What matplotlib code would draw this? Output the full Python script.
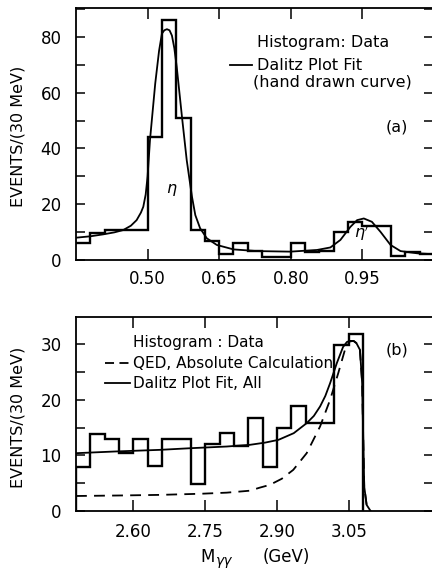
import numpy as np
import matplotlib
matplotlib.use("Agg")
import matplotlib.pyplot as plt
from matplotlib.lines import Line2D

plt.rcParams['font.family'] = ['DejaVu Sans']
plt.rcParams['mathtext.fontset'] = 'dejavusans'

# ---------------- data: panel (a) ----------------
a_bin_lo = 0.35
a_bin_width = 0.03
a_counts = [6.2, 9.8, 10.7, 10.7, 10.7, 44.2, 86.0, 50.8, 10.7, 6.9,
            2.0, 6.2, 3.3, 1.0, 1.0, 6.2, 2.8, 3.3, 9.9, 13.5,
            12.3, 12.3, 1.3, 3.0, 2.0]
a_fit_x = [0.35, 0.38, 0.407, 0.43, 0.449, 0.465, 0.477, 0.486, 0.491, 0.496,
           0.500, 0.505, 0.516, 0.524, 0.530, 0.535, 0.5405, 0.546, 0.551, 0.556,
           0.561, 0.572, 0.582, 0.593, 0.600, 0.610, 0.624, 0.645, 0.68, 0.729,
           0.799, 0.855, 0.883, 0.904, 0.925, 0.939, 0.953, 0.97, 0.988, 1.009,
           1.03, 1.065, 1.096]
a_fit_y = [8.0, 8.5, 9.2, 9.9, 10.75, 12.3, 14.3, 17.0, 19.1, 23.5,
           30.0, 43.0, 63.3, 75.0, 81.2, 82.4, 82.8, 82.4, 80.5, 76.0,
           69.3, 51.4, 35.8, 22.7, 16.1, 11.4, 7.8, 5.4, 3.8, 3.2,
           3.0, 3.6, 4.5, 7.2, 11.9, 14.3, 14.9, 13.7, 10.1, 5.4,
           3.2, 2.4, 2.1]
a_xticks = [0.50, 0.65, 0.80, 0.95]
a_xticklabels = ['0.50', '0.65', '0.80', '0.95']
a_yticks = [0, 20, 40, 60, 80]

# ---------------- data: panel (b) ----------------
b_bin_lo = 2.48
b_bin_width = 0.03
b_counts = [8.0, 13.8, 12.9, 10.5, 12.9, 8.1, 12.9, 12.9, 4.9, 12.0,
            14.1, 11.7, 16.8, 8.0, 15.0, 18.9, 15.8, 15.8, 29.9, 31.8]
b_fit_x = [2.48, 2.56, 2.655, 2.72, 2.795, 2.843, 2.875, 2.903, 2.935, 2.962,
           2.977, 2.990, 3.001, 3.011, 3.025, 3.038, 3.046, 3.052, 3.060, 3.066,
           3.0733, 3.078, 3.080, 3.0823, 3.0873, 3.0956]
b_fit_y = [10.4, 10.7, 11.0, 11.3, 11.6, 11.9, 12.3, 12.8, 14.0, 15.8,
           17.1, 18.8, 20.7, 23.0, 26.6, 29.5, 30.4, 30.6, 30.6, 30.2,
           29.0, 23.0, 14.0, 4.4, 1.1, 0.0]
b_qed_x = [2.48, 2.58, 2.655, 2.74, 2.795, 2.843, 2.864, 2.885, 2.91, 2.934,
           2.962, 2.990, 3.011, 3.028, 3.042, 3.052, 3.060, 3.066, 3.0733, 3.078,
           3.080, 3.0823, 3.0873, 3.0956]
b_qed_y = [2.7, 2.8, 2.9, 3.1, 3.3, 3.65, 4.2, 4.7, 5.8, 7.4,
           10.4, 15.2, 20.0, 24.8, 29.0, 30.5, 30.6, 30.2, 29.0, 23.0,
           14.0, 4.4, 1.1, 0.0]
b_xticks = [2.60, 2.75, 2.90, 3.05]
b_xticklabels = ['2.60', '2.75', '2.90', '3.05']
b_yticks = [0, 10, 20, 30]

# ---------------- figure ----------------
W, H = 432, 571
fig = plt.figure(figsize=(W / 100, H / 100), dpi=100)


def box(l, t, r, b):
    return [l / W, 1 - b / H, (r - l) / W, (b - t) / H]


def fx(x):
    return x / W


def fy(y):
    return 1 - y / H


axA = fig.add_axes(box(76, 8, 433, 260))
axB = fig.add_axes(box(76, 317, 433, 511))

a_edges = a_bin_lo + a_bin_width * np.arange(len(a_counts) + 1)
b_edges = b_bin_lo + b_bin_width * np.arange(len(b_counts) + 1)

axA.stairs(a_counts, a_edges, baseline=None, color='black', linewidth=1.7)
axA.plot(a_fit_x, a_fit_y, color='black', linewidth=1.3)
axA.set_xlim(0.35, 1.098)
axA.set_ylim(0, 90.4)

axB.stairs(b_counts, b_edges, baseline=0, color='black', linewidth=1.7)
axB.plot(b_fit_x, b_fit_y, color='black', linewidth=1.3)
axB.plot(b_qed_x, b_qed_y, color='black', linewidth=1.3, dashes=(6, 4))
axB.set_xlim(2.48, 3.226)
axB.set_ylim(0, 34.9)

for ax, xt, xtl, yt, ymin, xpad in ((axA, a_xticks, a_xticklabels, a_yticks, 10, 7),
                                    (axB, b_xticks, b_xticklabels, b_yticks, 5, 8.5)):
    ax.set_xticks(xt)
    ax.set_xticklabels(xtl)
    ax.set_yticks(yt)
    ax.set_yticks(np.arange(0, ax.get_ylim()[1], ymin), minor=True)
    ax.tick_params(axis='x', which='both', direction='in', top=True, bottom=True,
                   length=8, width=1.1, labelsize=12, pad=xpad)
    ax.tick_params(axis='y', which='both', direction='in', left=True, right=True,
                   length=6.5, width=1.1, labelsize=12, pad=10.5)
    for s in ax.spines.values():
        s.set_linewidth(1.3)

# y labels
lab_kw = dict(rotation=90, ha='center', va='center', fontsize=11.5)
fig.text(fx(18.5), fy(136), 'EVENTS/(30 MeV)', **lab_kw)
fig.text(fx(18.5), fy(417), 'EVENTS/(30 MeV)', **lab_kw)

# x label
fig.text(fx(200), fy(562), 'M', ha='left', va='baseline', fontsize=12)
fig.text(fx(216), fy(565), 'γγ', ha='left', va='baseline', fontsize=10, style='italic')
fig.text(fx(263), fy(562), '(GeV)', ha='left', va='baseline', fontsize=12)

# legend (a)
tk = dict(ha='left', va='center', fontsize=11.5)
fig.text(fx(257), fy(43), 'Histogram: Data', **tk)
fig.add_artist(Line2D([fx(230), fx(252)], [fy(65), fy(65)], color='black', linewidth=1.3))
fig.text(fx(257), fy(65), 'Dalitz Plot Fit', **tk)
fig.text(fx(253), fy(82), '(hand drawn curve)', **tk)
fig.text(fx(397), fy(127), '(a)', ha='center', va='center', fontsize=11.5)
fig.text(fx(172), fy(190), r'$\eta$', ha='center', va='center', fontsize=11.5)
fig.text(fx(362), fy(233), r"$\eta'$", ha='center', va='center', fontsize=11.5)

# legend (b)
tb = dict(ha='left', va='center', fontsize=11)
fig.text(fx(133), fy(343), 'Histogram : Data', **tb)
fig.add_artist(Line2D([fx(105), fx(130)], [fy(363), fy(363)], color='black',
                      linewidth=1.3, dashes=(5, 3)))
fig.text(fx(133), fy(363), 'QED, Absolute Calculation', **tb)
fig.add_artist(Line2D([fx(105), fx(130)], [fy(383), fy(383)], color='black', linewidth=1.3))
fig.text(fx(133), fy(383), 'Dalitz Plot Fit, All', **tb)
fig.text(fx(397), fy(350), '(b)', ha='center', va='center', fontsize=11.5)

fig.savefig('out.png', dpi=100)
